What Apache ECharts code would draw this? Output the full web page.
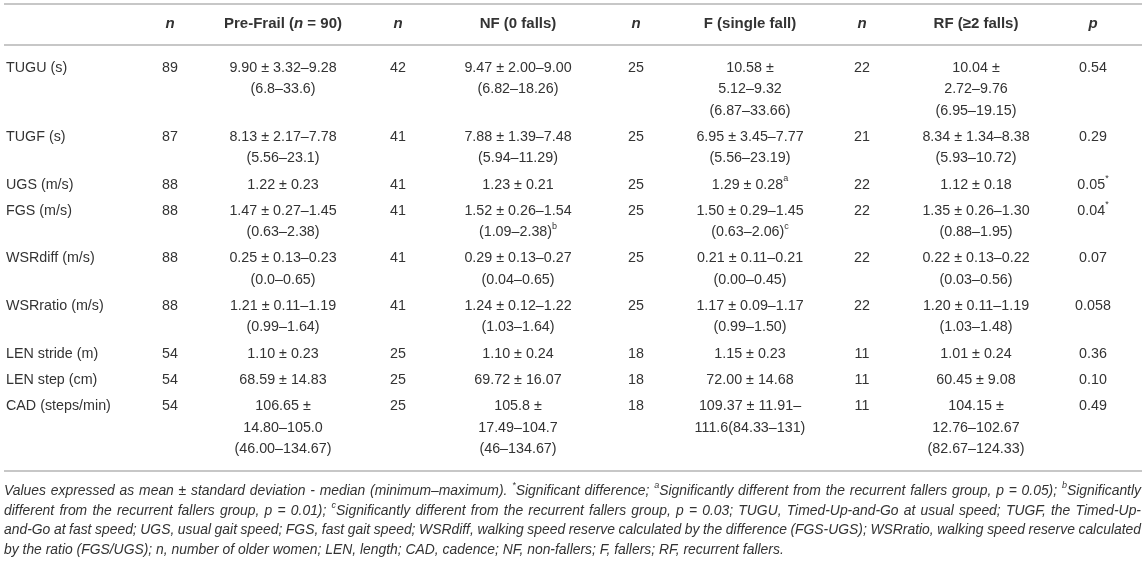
<!DOCTYPE html>
<html>
<head>
<meta charset="utf-8">
<title>Gait parameters by fall group</title>
<script src="https://cdn.jsdelivr.net/npm/echarts@6/dist/echarts.min.js"></script>
<style>
  html, body { margin: 0; padding: 0; background: #fff; }
  #main { width: 1146px; height: 562px; }
</style>
</head>
<body>
<div id="main"></div>
<script>
// table content, one array per column
var headers = ['', '{hi|n}', 'Pre-Frail ({hi|n} = 90)', '{hi|n}', 'NF (0 falls)', '{hi|n}',
    'F (single fall)', '{hi|n}', 'RF (≥2 falls)', '{hi|p}'];
var rowLabels = ['TUGU (s)', 'TUGF (s)', 'UGS (m/s)', 'FGS (m/s)', 'WSRdiff (m/s)',
    'WSRratio (m/s)', 'LEN stride (m)', 'LEN step (cm)', 'CAD (steps/min)'];
var nPreFrail = ['89', '87', '88', '88', '88', '88', '54', '54', '54'];
var preFrail = [
    '9.90 ± 3.32–9.28\n(6.8–33.6)',
    '8.13 ± 2.17–7.78\n(5.56–23.1)',
    '1.22 ± 0.23',
    '1.47 ± 0.27–1.45\n(0.63–2.38)',
    '0.25 ± 0.13–0.23\n(0.0–0.65)',
    '1.21 ± 0.11–1.19\n(0.99–1.64)',
    '1.10 ± 0.23',
    '68.59 ± 14.83',
    '106.65 ±\n14.80–105.0\n(46.00–134.67)'
];
var nNF = ['42', '41', '41', '41', '41', '41', '25', '25', '25'];
var nonFallers = [
    '9.47 ± 2.00–9.00\n(6.82–18.26)',
    '7.88 ± 1.39–7.48\n(5.94–11.29)',
    '1.23 ± 0.21',
    '1.52 ± 0.26–1.54\n(1.09–2.38){s|b}',
    '0.29 ± 0.13–0.27\n(0.04–0.65)',
    '1.24 ± 0.12–1.22\n(1.03–1.64)',
    '1.10 ± 0.24',
    '69.72 ± 16.07',
    '105.8 ±\n17.49–104.7\n(46–134.67)'
];
var nF = ['25', '25', '25', '25', '25', '25', '18', '18', '18'];
var fallers = [
    '10.58 ±\n5.12–9.32\n(6.87–33.66)',
    '6.95 ± 3.45–7.77\n(5.56–23.19)',
    '1.29 ± 0.28{s|a}',
    '1.50 ± 0.29–1.45\n(0.63–2.06){s|c}',
    '0.21 ± 0.11–0.21\n(0.00–0.45)',
    '1.17 ± 0.09–1.17\n(0.99–1.50)',
    '1.15 ± 0.23',
    '72.00 ± 14.68',
    '109.37 ± 11.91–\n111.6(84.33–131)'
];
var nRF = ['22', '21', '22', '22', '22', '22', '11', '11', '11'];
var recurrent = [
    '10.04 ±\n2.72–9.76\n(6.95–19.15)',
    '8.34 ± 1.34–8.38\n(5.93–10.72)',
    '1.12 ± 0.18',
    '1.35 ± 0.26–1.30\n(0.88–1.95)',
    '0.22 ± 0.13–0.22\n(0.03–0.56)',
    '1.20 ± 0.11–1.19\n(1.03–1.48)',
    '1.01 ± 0.24',
    '60.45 ± 9.08',
    '104.15 ±\n12.76–102.67\n(82.67–124.33)'
];
var pValues = ['0.54', '0.29', '0.05{s|*}', '0.04{s|*}', '0.07', '0.058', '0.36', '0.10', '0.49'];
var footnotes = [
    'Values expressed as mean ± standard deviation - median (minimum–maximum). {s|*}Significant difference; {s|a}Significantly different from the recurrent fallers group, p = 0.05); {s|b}Significantly',
    'different from the recurrent fallers group, p = 0.01); {s|c}Significantly different from the recurrent fallers group, p = 0.03; TUGU, Timed-Up-and-Go at usual speed; TUGF, the Timed-Up-',
    'and-Go at fast speed; UGS, usual gait speed; FGS, fast gait speed; WSRdiff, walking speed reserve calculated by the difference (FGS-UGS); WSRratio, walking speed reserve calculated',
    'by the ratio (FGS/UGS); n, number of older women; LEN, length; CAD, cadence; NF, non-fallers; F, fallers; RF, recurrent fallers.'
];

var columns = [rowLabels, nPreFrail, preFrail, nNF, nonFallers, nF, fallers, nRF, recurrent, pValues];

// layout
var W = 1146, H = 562;
var colX = [6, 170, 283, 398, 518, 636, 750, 862, 976, 1093];
var headerY = 24;
var bodyTop = 57.5;
var lineH = 21.3;
var rowPad = 5;
var footTop = 491;
var footLineH = 19.7;
var footLeft = 4, footRight = 1141;
var bodySize = 14.3, headSize = 15, footSize = 13.9, supSize = 9;
var font = "'Liberation Sans', Arial, Helvetica, sans-serif";
var textColor = '#333';
var ruleColor = '#b5b5b5';

function lineCount(s) { return s.split('\n').length; }

var rowTops = [];
var y = bodyTop;
rowLabels.forEach(function (lab, r) {
    rowTops.push(y);
    var maxLines = 1;
    columns.forEach(function (col) { maxLines = Math.max(maxLines, lineCount(col[r])); });
    y += maxLines * lineH + rowPad;
});

// measure italic footnote words (with superscript tokens) for justified lines
var ctx = document.createElement('canvas').getContext('2d');
function footWordWidth(word) {
    var w = 0;
    var sup = word.match(/\{s\|[^}]*\}/g) || [];
    sup.forEach(function (t) {
        ctx.font = 'italic ' + supSize + 'px ' + font;
        w += ctx.measureText(t.slice(3, -1)).width;
    });
    ctx.font = 'italic ' + footSize + 'px ' + font;
    w += ctx.measureText(word.replace(/\{s\|[^}]*\}/g, '')).width;
    return w;
}

// [x, y, text, kind, col]
var cells = [];
headers.forEach(function (h, c) {
    cells.push([colX[c], headerY, h, 'head', c]);
});
columns.forEach(function (col, c) {
    col.forEach(function (txt, r) {
        cells.push([colX[c], rowTops[r], txt, 'body', c]);
    });
});
footnotes.forEach(function (txt, i) {
    var fy = footTop + i * footLineH;
    if (i === footnotes.length - 1) {
        cells.push([footLeft, fy, txt, 'foot', 0]);
        return;
    }
    var words = txt.split(' ');
    var widths = words.map(footWordWidth);
    var total = widths.reduce(function (a, b) { return a + b; }, 0);
    var gap = Math.max(2, (footRight - footLeft - total) / (words.length - 1));
    var x = footLeft;
    words.forEach(function (wd, k) {
        cells.push([x, fy, wd, 'foot', 0]);
        x += widths[k] + gap;
    });
});

var myChart = echarts.init(document.getElementById('main'));
var option = {
    animation: false,
    grid: { left: 0, right: 0, top: 0, bottom: 0 },
    xAxis: { type: 'value', min: 0, max: W, show: false },
    yAxis: { type: 'value', min: 0, max: H, inverse: true, show: false },
    graphic: [
        { type: 'line', shape: { x1: 4, y1: 4, x2: 1142, y2: 4 }, style: { stroke: ruleColor, lineWidth: 1.5 } },
        { type: 'line', shape: { x1: 4, y1: 45, x2: 1142, y2: 45 }, style: { stroke: ruleColor, lineWidth: 1.5 } },
        { type: 'line', shape: { x1: 4, y1: 471, x2: 1142, y2: 471 }, style: { stroke: ruleColor, lineWidth: 1.5 } }
    ],
    series: [{
        type: 'custom',
        coordinateSystem: 'cartesian2d',
        silent: true,
        data: cells,
        encode: { x: 0, y: 1 },
        renderItem: function (params, api) {
            var item = cells[params.dataIndex];
            var pt = api.coord([item[0], item[1]]);
            var kind = item[3];
            var style = {
                text: item[2],
                fill: textColor,
                fontFamily: font,
                fontSize: bodySize,
                lineHeight: lineH,
                align: item[4] === 0 ? 'left' : 'center',
                verticalAlign: 'top',
                rich: { s: { fontSize: supSize, lineHeight: 13, verticalAlign: 'top', fontFamily: font } }
            };
            if (kind === 'head') {
                style.fontWeight = 'bold';
                style.fontSize = headSize;
                style.verticalAlign = 'middle';
                style.rich = {
                    hi: { fontStyle: 'italic', fontWeight: 'bold', fontSize: headSize, fontFamily: font }
                };
            } else if (kind === 'foot') {
                style.fontStyle = 'italic';
                style.fontSize = footSize;
                style.lineHeight = footLineH;
                style.verticalAlign = 'middle';
                style.rich = {
                    s: { fontSize: supSize, lineHeight: 12, verticalAlign: 'top', fontStyle: 'italic', fontFamily: font }
                };
            }
            return { type: 'text', x: pt[0], y: pt[1], style: style };
        }
    }]
};
myChart.setOption(option);
window.onresize = myChart.resize;
</script>
</body>
</html>
